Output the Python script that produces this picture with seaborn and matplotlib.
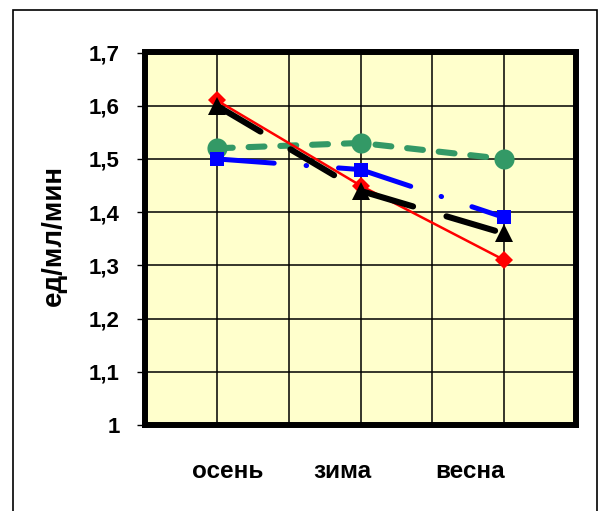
import matplotlib
matplotlib.use("Agg")
import matplotlib.pyplot as plt
import matplotlib.transforms as mtransforms
from matplotlib.patches import Rectangle
import seaborn as sns

# Seasonal activity values, ед/мл/мин
seasons = ["осень", "зима", "весна"]
red_vals = [1.61, 1.45, 1.31]
black_vals = [1.60, 1.44, 1.36]
blue_vals = [1.50, 1.48, 1.39]
green_vals = [1.52, 1.53, 1.50]
y_ticks = [1.0, 1.1, 1.2, 1.3, 1.4, 1.5, 1.6, 1.7]
y_tick_labels = ["1", "1,1", "1,2", "1,3", "1,4", "1,5", "1,6", "1,7"]

sns.set_theme(style="white")
plt.rcParams["font.family"] = ["Liberation Sans", "DejaVu Sans"]
plt.rcParams["font.weight"] = "bold"

fig = plt.figure(figsize=(5.98, 5.11), dpi=100)
ax = fig.add_axes([145 / 598, 1 - 425 / 511, 431 / 598, 372.5 / 511])
ax.set_facecolor("#FFFFCC")

x = list(range(len(seasons)))

common = dict(ax=ax, dash_capstyle="round", solid_capstyle="round",
              legend=False, sort=False)

sns.lineplot(x=x, y=green_vals, color="#339966", lw=4.4,
             linestyle=(0, (2.6, 2.6)), marker="o", markersize=14.5,
             markeredgecolor="#339966", markeredgewidth=0, zorder=3, **common)
sns.lineplot(x=x, y=blue_vals, color="#0000FF", lw=3.6,
             linestyle=(3.5, (15, 6.4, 0.1, 6.4)), marker="s", markersize=9.5,
             markeredgecolor="#0000FF", markeredgewidth=0, zorder=4, **common)
sns.lineplot(x=x, y=red_vals, color="#FF0000", lw=1.8, linestyle="-",
             marker="D", markersize=9.5, markeredgecolor="#FF0000",
             markeredgewidth=0, zorder=5, **common)
sns.lineplot(x=x, y=black_vals, color="black", lw=4.4,
             linestyle=(0, (8.3, 5.7)), marker="^", markersize=13,
             markeredgecolor="black", markeredgewidth=0, zorder=6, **common)

ax.set_xlim(-0.5, 2.5)
ax.set_ylim(1.0, 1.7)
ax.set_yticks(y_ticks)
ax.set_yticklabels(y_tick_labels, fontsize=16, fontweight="bold")
ax.set_xticks(x)
ax.set_xticklabels([])
ax.set_xticks([0, 0.5, 1, 1.5, 2], minor=True)
ax.xaxis.remove_overlapping_locs = False

# Category names, set a little off their tick positions
label_shifts = [10.5, -18, -34]
base = mtransforms.blended_transform_factory(ax.transData, ax.transAxes)
for xi, name, dx in zip(x, seasons, label_shifts):
    tr = base + mtransforms.ScaledTranslation(dx / 100, 0, fig.dpi_scale_trans)
    ax.text(xi, -0.1423, name, transform=tr, ha="center", va="baseline",
            fontsize=17.5, fontweight="bold", color="black", clip_on=False)

ax.tick_params(axis="y", which="major", direction="out", length=6, width=1,
               color="black", pad=12, left=True, labelcolor="black")
ax.tick_params(axis="x", which="both", length=0)

ax.grid(False)
ax.yaxis.grid(True, which="major", color="black", lw=1.1)
ax.xaxis.grid(True, which="minor", color="black", lw=1.1)
ax.set_axisbelow(True)

for sp in ax.spines.values():
    sp.set_visible(True)
    sp.set_color("black")
    sp.set_linewidth(4.3)
    sp.set_capstyle("projecting")
    sp.set_zorder(10)

ax.set_xlabel("")
ax.set_ylabel("")
fig.text(54 / 598, 1 - 235 / 511, "ед/мл/мин", rotation=90, ha="center",
         va="center", fontsize=20, fontweight="bold", color="black")

# Outer chart frame
fig.patches.append(Rectangle((13 / 598, -0.05), (597 - 13) / 598, 1.05 - 10 / 511,
                             transform=fig.transFigure, fill=False,
                             edgecolor="black", lw=1.2, zorder=0))

fig.savefig("out.png", dpi=100)
